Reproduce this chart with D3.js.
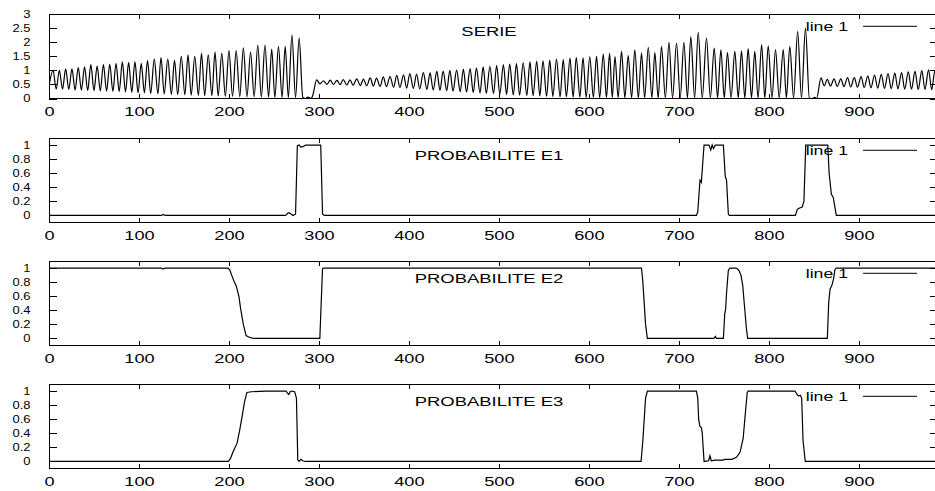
<!DOCTYPE html>
<html>
<head>
<meta charset="utf-8">
<script src="https://cdn.jsdelivr.net/npm/d3@7"></script>
<style>
  body { margin: 0; background: #fff; }
  svg { display: block; font-family: "Liberation Sans", Arial, Helvetica, sans-serif; }
</style>
</head>
<body>
<svg id="chart" width="935" height="491"></svg>
<script>
// turning points of the series [x, value]
var serie = [
  [0,0.45],[4.5,1.0],[8,0.33],[11.5,1.0],[15,0.33],[18.5,1.05],[22,0.32],[25.5,1.05],[29,0.3],[32.5,1.1],
  [36,0.3],[39.5,1.12],[43,0.28],[46.5,1.2],[50,0.28],[53.5,1.15],[57,0.27],[60.5,1.2],[64,0.26],[67.5,1.22],
  [71,0.25],[74.5,1.25],[78,0.24],[81.5,1.3],[85,0.23],[88.5,1.28],[92,0.22],[95.5,1.3],[99,0.2],[102.5,1.25],
  [106,0.2],[109.5,1.35],[113,0.18],[117,1.4],[121,0.17],[124.5,1.45],[128,0.16],[132,1.4],[136,0.15],[139.5,1.35],
  [143,0.14],[147,1.5],[151,0.13],[154.5,1.55],[158,0.12],[162,1.5],[166,0.11],[169.5,1.6],[173,0.1],[177,1.55],
  [181,0.1],[184.5,1.65],[188,0.09],[192,1.6],[196,0.08],[200,1.7],[204,0.08],[208,1.7],[212,0.07],[216,1.8],
  [220,0.06],[224,1.65],[228,0.06],[232,1.9],[236,0.05],[240,1.9],[244,0.05],[247.5,1.75],[251,0.04],[255,1.85],
  [259,0.04],[262.5,1.85],[266,0.04],[270,2.25],[274,0.03],[278,2.15],[282,0.05],[285,0.0],[288,0.05],[291,0.0],
  [293,0.1],[297.5,0.66],[301,0.52],[305,0.63],[309,0.5],[312.5,0.65],[316,0.5],[320,0.64],[323.5,0.49],[327,0.67],
  [331,0.48],[334.5,0.66],[338,0.47],[342,0.7],[346,0.46],[349.5,0.69],[353,0.45],[357,0.73],[360.5,0.44],[364,0.72],
  [368,0.43],[371.5,0.77],[375,0.42],[379,0.78],[383,0.4],[386.5,0.82],[390,0.39],[394,0.84],[397.5,0.37],[401,0.88],
  [405,0.36],[408.5,0.87],[412,0.34],[416,0.92],[420,0.32],[423.5,0.91],[427,0.3],[431,0.96],[434.5,0.29],[438,0.97],
  [442,0.28],[445.5,1.0],[449,0.26],[453,1.01],[457,0.24],[460.5,1.04],[464,0.23],[468,1.06],[471.5,0.21],[475,1.08],
  [479,0.2],[482.5,1.12],[486,0.18],[490,1.14],[494,0.17],[497.5,1.18],[501,0.15],[505,1.2],[508.5,0.14],[512,1.22],
  [516,0.13],[519.5,1.24],[523,0.12],[527,1.27],[531,0.11],[534.5,1.3],[538,0.1],[542,1.32],[545.5,0.09],[549,1.34],
  [553,0.08],[556.5,1.36],[560,0.07],[564,1.4],[568,0.06],[571.5,1.38],[575,0.06],[579,1.43],[582.5,0.05],[586,1.45],
  [590,0.05],[593.5,1.44],[597,0.04],[601,1.48],[605,0.04],[608.5,1.5],[612,0.03],[616,1.58],[619.5,0.03],[623,1.6],
  [626,0.03],[629,1.49],[632.5,0.03],[636.3,1.67],[640,0.02],[643.7,1.52],[647.5,0.02],[651,1.73],[655,0.02],[658.5,1.61],
  [662,0.02],[666,1.82],[670,0.02],[673.3,1.63],[677,0.02],[680.7,1.85],[685,0.02],[689,1.99],[693,0.02],[697.4,1.97],
  [701.5,0.02],[705.6,1.99],[709.5,0.02],[713.3,2.2],[717.5,0.02],[721.5,2.35],[726,0.02],[730.7,2.14],[735,0.02],[739.3,1.79],
  [743,0.02],[746.7,1.73],[750.5,0.02],[754,1.63],[758,0.02],[762.2,1.67],[766,0.02],[769.6,1.69],[773.3,0.02],[777,1.77],
  [780.7,0.02],[784.4,1.67],[788,0.02],[792,1.91],[795.5,0.02],[799.3,1.87],[803.5,0.02],[807.4,1.74],[811.5,0.02],[816,1.74],
  [819.5,0.02],[823.3,1.85],[827.5,0.02],[832,2.38],[836.3,0.02],[840.7,2.5],[845,0.02],[848,0.0],[851,0.04],[853,0.0],
  [858,0.73],[861.5,0.45],[865,0.68],[868.5,0.44],[872.5,0.7],[876,0.43],[880,0.7],[883.5,0.42],[887.5,0.74],[891,0.41],
  [895,0.74],[898.5,0.4],[902.5,0.78],[906,0.39],[910,0.8],[913.5,0.38],[917.5,0.83],[921,0.37],[925,0.86],[928.5,0.36],
  [932.5,0.88],[936,0.35],[940,0.9],[943.5,0.34],[947.5,0.92],[951,0.33],[955,0.95],[958.5,0.33],[962.5,0.96],[966,0.32],
  [970,0.99],[973.5,0.32],[977.5,1.02],[981,0.31],[984.5,0.98],[988,0.4]
];

var probaE1 = [
  [0,0],[125,0],[127,0.015],[129,0],[263,0],[266,0.04],[268,0.03],[271,0],[274,0.02],[276,0.99],[278,1],[280,0.97],
  [283,0.98],[285,1],[302,1],[304,0.02],[306,0],[719.5,0],[721,0.05],[723.5,0.5],[725,0.47],[728,1],[733.5,1],
  [735.5,0.93],[737,1],[738.5,0.95],[740.5,1],[749.5,1],[751.5,0.56],[753,0.5],[755,0.02],[756,0],[829.5,0],
  [831.5,0.08],[833,0.1],[837,0.12],[839,0.2],[841,1],[865.5,1],[867,0.6],[869.5,0.3],[871.5,0.26],[873,0.15],
  [875,0],[988,0]
];

var probaE2 = [
  [0,1],[125,1],[127,0.985],[129,1],[199,1],[201,0.97],[203,0.9],[206,0.8],[208,0.75],[211,0.6],[213,0.42],
  [216,0.2],[219,0.04],[222,0.02],[226,0.005],[230,0],[301,0],[302.5,0.5],[304,0.99],[305,1],[658.5,1],[660,0.8],
  [663,0.2],[665,0],[739,0],[740.5,0.03],[742,0],[749.5,0],[751,0.35],[752,0.42],[753,0.65],[755,0.97],[757,1],
  [763,1],[765,0.99],[767,0.96],[769,0.9],[771,0.75],[773,0.45],[775,0.15],[776.5,0],[865,0],[866.5,0.5],
  [868,0.7],[870,0.75],[872,0.85],[873.5,0.98],[875,1],[988,1]
];

var probaE3 = [
  [0,0],[199.5,0],[202,0.05],[204,0.12],[206.5,0.19],[209,0.26],[212,0.45],[215,0.67],[217.5,0.86],[220,0.98],
  [225,0.99],[241,1],[263.5,1],[265,0.97],[266.5,0.95],[268,0.99],[270,1],[273,0.99],[275,0.9],[276.5,0.02],
  [278,0],[280,0.03],[282,0.01],[285,0],[658,0],[660,0.3],[663,0.9],[665,1],[719.5,1],[721,0.9],[722,0.6],
  [723.3,0.5],[725,0.48],[726,0.4],[728,0],[733,0.01],[734.5,0.08],[736,0.01],[740,0.02],[749,0.02],[751,0.03],
  [759,0.03],[764,0.06],[768,0.13],[771.5,0.33],[774,0.7],[776,0.98],[777,1],[829,1],[831,0.96],[833,0.93],
  [835,0.94],[836.5,0.9],[838,0.3],[840.5,0],[988,0]
];

var titles = ["SERIE", "PROBABILITE E1", "PROBABILITE E2", "PROBABILITE E3"];
var legendLabel = "line 1";
var xTicks = [0, 100, 200, 300, 400, 500, 600, 700, 800, 900];
var yTicksSerie = [0, 0.5, 1, 1.5, 2, 2.5, 3];
var yTicksProba = [0, 0.2, 0.4, 0.6, 0.8, 1];

var my = {
  left: 49, right: 938,
  tops: [14, 138, 261, 384],
  height: 84.5,
  xMax: 988,
  stretch: 1.42 // the picture's text is wider than tall
};

var panels = [
  {data: serie, yDomain: [0, 3], yTicks: yTicksSerie, curve: d3.curveMonotoneX},
  {data: probaE1, yDomain: [-0.1, 1.1], yTicks: yTicksProba, curve: d3.curveLinear},
  {data: probaE2, yDomain: [-0.1, 1.1], yTicks: yTicksProba, curve: d3.curveLinear},
  {data: probaE3, yDomain: [-0.1, 1.1], yTicks: yTicksProba, curve: d3.curveLinear}
];

var svg = d3.select("#chart");
var x = d3.scaleLinear().domain([0, my.xMax]).range([my.left, my.right]);
var fmt = function(d){ return String(+d.toFixed(1)); };

panels.forEach(function(p, i){
  var top = my.tops[i], bottom = top + my.height;
  var y = d3.scaleLinear().domain(p.yDomain).range([bottom, top]);
  var g = svg.append("g");

  // ticks go inward, mirrored on top and right like gnuplot
  var bx = g.append("g").attr("transform", "translate(0," + bottom + ")")
    .call(d3.axisBottom(x).tickValues(xTicks).tickSizeInner(-5).tickSizeOuter(0).tickPadding(8.5));
  bx.selectAll(".tick text").attr("font-size", 13).attr("transform", "scale(1.4,1)");

  g.append("g").attr("transform", "translate(0," + top + ")")
    .call(d3.axisTop(x).tickValues(xTicks).tickSizeInner(-5).tickSizeOuter(0).tickFormat(""));

  var ly = g.append("g").attr("transform", "translate(" + my.left + ",0)")
    .call(d3.axisLeft(y).tickValues(p.yTicks).tickSizeInner(-8).tickSizeOuter(0).tickPadding(14.2).tickFormat(fmt));
  ly.selectAll(".tick text").attr("font-size", 10).attr("transform", "scale(1.3,1)");

  g.append("g").attr("transform", "translate(" + my.right + ",0)")
    .call(d3.axisRight(y).tickValues(p.yTicks).tickSizeInner(-8).tickSizeOuter(0).tickFormat(""));

  g.selectAll(".domain").remove();
  g.selectAll(".tick line").attr("stroke", "#000").attr("shape-rendering", "crispEdges");
  g.selectAll(".tick text").attr("fill", "#000").attr("font-family", null);

  g.append("rect")
    .attr("x", my.left).attr("y", top)
    .attr("width", my.right - my.left).attr("height", my.height)
    .attr("fill", "none").attr("stroke", "#000").attr("stroke-width", 1)
    .attr("shape-rendering", "crispEdges");

  // title, centred inside the frame
  g.append("text")
    .attr("transform", "translate(489," + (top + 22) + ") scale(" + my.stretch + ",1)")
    .attr("text-anchor", "middle").attr("font-size", 13).attr("fill", "#000")
    .text(titles[i]);

  // key
  g.append("text")
    .attr("transform", "translate(848," + (top + 17.3) + ") scale(1.36,1)")
    .attr("text-anchor", "end").attr("font-size", 13).attr("fill", "#000")
    .text(legendLabel);
  g.append("line")
    .attr("x1", 863).attr("x2", 917)
    .attr("y1", top + 12.3).attr("y2", top + 12.3)
    .attr("stroke", "#000").attr("stroke-width", 1);

  var clipId = "clip" + i;
  g.append("clipPath").attr("id", clipId).append("rect")
    .attr("x", my.left).attr("y", top).attr("width", my.right - my.left).attr("height", my.height);

  var line = d3.line().curve(p.curve)
    .x(function(d){ return x(d[0]); })
    .y(function(d){ return y(d[1]); });

  g.append("path")
    .datum(p.data)
    .attr("clip-path", "url(#" + clipId + ")")
    .attr("fill", "none").attr("stroke", "#000").attr("stroke-width", 1.2)
    .attr("d", line);
});
</script>
</body>
</html>
